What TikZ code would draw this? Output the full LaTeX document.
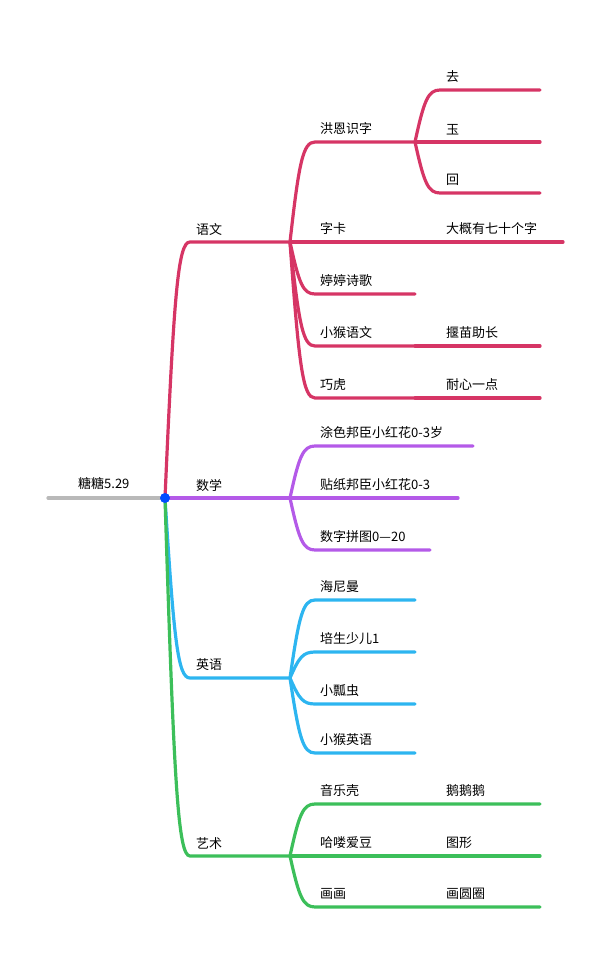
\documentclass[tikz,border=0pt]{standalone}
\usepackage{fontspec}
\setmainfont{Noto Sans CJK SC}
\usetikzlibrary{calc}
\definecolor{cyu}{HTML}{D63565}
\definecolor{cshu}{HTML}{B45AE8}
\definecolor{cying}{HTML}{2DB5F0}
\definecolor{cyi}{HTML}{3CBF5A}
\tikzset{edge/.style={line width=3.2pt, line cap=round},
         lbl/.style={anchor=south west, inner sep=0pt, font=\fontsize{13}{15}\selectfont},
         curve/.style={to path={.. controls ($(\tikztostart)!0.8!(\tikztotarget)+(-11,0)$) and ($(\tikztotarget)+(-12,0)$) .. (\tikztotarget)}}}

\begin{document}
\begin{tikzpicture}[x=1pt, y=-1pt]
    \useasboundingbox (0,0) rectangle (611,957);
    % root
    \coordinate (root) at (165,498);
    \coordinate (rootL) at (48,498);
    \draw[edge, gray!55] (rootL) -- (root);
    \node[lbl] (tt) at (78,490) {糖糖5.29};
    % main branches
    \coordinate (yw) at (190,242); \coordinate (ywE) at (290,242);
    \coordinate (sx) at (190,498); \coordinate (sxE) at (290,498);
    \coordinate (yy) at (190,678); \coordinate (yyE) at (290,678);
    \coordinate (ys) at (190,856); \coordinate (ysE) at (290,856);
    \draw[edge, cyu] (root) to[curve] (yw) -- (ywE);
    \draw[edge, cshu] (root) -- (sxE);
    \draw[edge, cying] (root) to[curve] (yy) -- (yyE);
    \draw[edge, cyi] (root) to[curve] (ys) -- (ysE);
    \node[lbl] (lyw) at (196,236) {语文};
    \node[lbl] (lsx) at (196,492) {数学};
    \node[lbl] (lyy) at (196,671) {英语};
    \node[lbl] (lys) at (196,850) {艺术};
    % yuwen
    \foreach \y/\e/\t in {142/415/洪恩识字, 242/415/字卡, 294/415/婷婷诗歌, 346/415/小猴语文, 398/415/巧虎}{
        \draw[edge, cyu] (ywE) to[curve] (315,\y) -- (\e,\y);
        \node[lbl] at (320,\y-7) {\t};
    }
    \coordinate (hs) at (415,142);
    \foreach \y/\t in {90/去, 142/玉, 193/回}{
        \draw[edge, cyu] (hs) to[curve] (440,\y) -- (540,\y);
        \node[lbl] at (446,\y-7) {\t};
    }
    \foreach \y/\e/\t in {242/563/大概有七十个字, 346/540/揠苗助长, 398/540/耐心一点}{
        \draw[edge, cyu] (415,\y) -- (\e,\y);
        \node[lbl] at (446,\y-7) {\t};
    }
    % shuxue
    \foreach \y/\e/\t in {446/473/涂色邦臣小红花0-3岁, 498/458/贴纸邦臣小红花0-3, 550/430/数字拼图0—20}{
        \draw[edge, cshu] (sxE) to[curve] (315,\y) -- (\e,\y);
        \node[lbl] at (320,\y-7) {\t};
    }
    % yingyu
    \foreach \y/\t in {600/海尼曼, 652/培生少儿1, 704/小瓢虫, 753/小猴英语}{
        \draw[edge, cying] (yyE) to[curve] (315,\y) -- (415,\y);
        \node[lbl] at (320,\y-7) {\t};
    }
    % yishu
    \foreach \y/\t/\s in {804/音乐壳/鹅鹅鹅, 856/哈喽爱豆/图形, 907/画画/画圆圈}{
        \draw[edge, cyi] (ysE) to[curve] (315,\y) -- (540,\y);
        \node[lbl] at (320,\y-7) {\t};
        \node[lbl] at (446,\y-7) {\s};
    }
    \fill[blue!70!cyan] (root) circle (5pt);
\end{tikzpicture}
\end{document}
